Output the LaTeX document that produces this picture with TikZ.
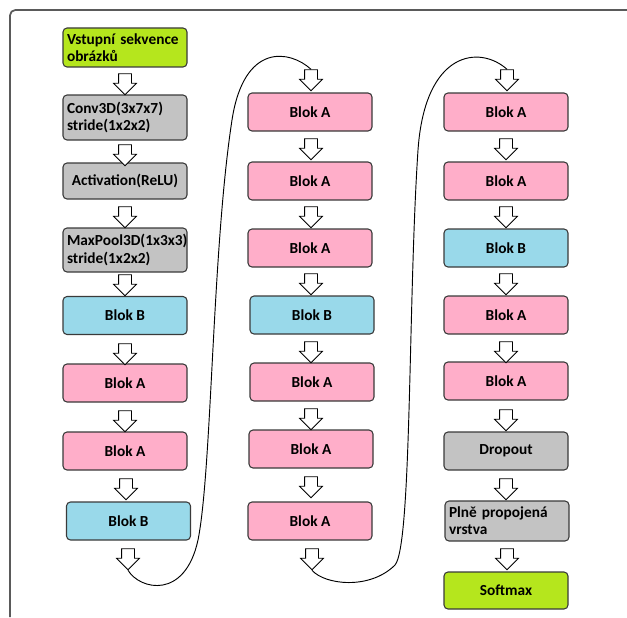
\documentclass[tikz,border=0pt]{standalone}
\usepackage{fontspec}
\setmainfont{Carlito}
\usetikzlibrary{shapes.arrows}
\definecolor{inoutfill}{HTML}{B5E61D}
\definecolor{layerfill}{HTML}{C3C3C3}
\definecolor{blokafill}{HTML}{FFAEC9}
\definecolor{blokbfill}{HTML}{99D9EA}
\definecolor{boxline}{HTML}{3A3A3A}
\definecolor{frameline}{HTML}{5A5A5A}
\tikzset{
  box/.style={draw=boxline, rounded corners=3pt, line width=0.8pt,
              minimum width=93pt, minimum height=28.5pt, inner xsep=3pt, inner ysep=2pt,
              font=\fontsize{11.5}{13}\selectfont\bfseries, align=center},
  leftbox/.style={text width=87pt, align=left},
  inoutbox/.style={box, fill=inoutfill},
  layerbox/.style={box, fill=layerfill},
  blokabox/.style={box, fill=blokafill},
  blokbbox/.style={box, fill=blokbfill},
  flowarrow/.style={single arrow, draw=black, fill=white, line width=0.6pt, rotate=-90,
                    inner xsep=0pt, inner ysep=4.5pt, single arrow head extend=3.75pt,
                    single arrow tip angle=90, minimum height=15.75pt, minimum width=16.5pt},
  link/.style={draw=black, line width=0.7pt},
  frame/.style={draw=frameline, line width=1.3pt, rounded corners=4pt},
}

\begin{document}
\begin{tikzpicture}[x=0.75pt, y=-0.75pt]
  \useasboundingbox (0,0) rectangle (627,617);
  % --- frame ---
  \draw[frame] (10,617) -- (10,10) -- (627,10);

  % --- column 1 ---
  \node[inoutbox, leftbox, minimum height=29.25pt] (c1b1) at (125,47.5) {Vstupní sekvence\\obrázků};
  \node[layerbox, leftbox, minimum height=33.75pt] (c1b2) at (125,117.5) {Conv3D(3x7x7)\\stride(1x2x2)};
  \node[layerbox, minimum height=27pt] (c1b3) at (125,181) {Activation(ReLU)};
  \node[layerbox, leftbox, minimum height=33pt] (c1b4) at (125,250) {MaxPool3D(1x3x3)\\stride(1x2x2)};
  \node[blokbbox] (c1b5) at (125,315.5) {Blok B};
  \node[blokabox] (c1b6) at (125,383) {Blok A};
  \node[blokabox] (c1b7) at (125,451) {Blok A};
  \node[blokbbox] (c1b8) at (128.5,521) {Blok B};
  \node[flowarrow] (c1a1) at (125,81) {};
  \node[flowarrow] (c1a2) at (125,152) {};
  \node[flowarrow] (c1a3) at (125,214) {};
  \node[flowarrow] (c1a4) at (125,282) {};
  \node[flowarrow] (c1a5) at (125,351) {};
  \node[flowarrow] (c1a6) at (125,418) {};
  \node[flowarrow] (c1a7) at (126,486) {};
  \node[flowarrow] (c1a8) at (128,556) {};

  % --- column 2 ---
  \node[flowarrow] (c2a0) at (311,77) {};
  \node[blokabox] (c2b1) at (310,112) {Blok A};
  \node[blokabox] (c2b2) at (310,181) {Blok A};
  \node[blokabox] (c2b3) at (310,248) {Blok A};
  \node[blokbbox] (c2b4) at (312,315) {Blok B};
  \node[blokabox] (c2b5) at (312,382) {Blok A};
  \node[blokabox] (c2b6) at (311,449) {Blok A};
  \node[blokabox] (c2b7) at (310,521) {Blok A};
  \node[flowarrow] (c2a1) at (311,146) {};
  \node[flowarrow] (c2a2) at (311,214) {};
  \node[flowarrow] (c2a3) at (311,281) {};
  \node[flowarrow] (c2a4) at (311,349) {};
  \node[flowarrow] (c2a5) at (311,416) {};
  \node[flowarrow] (c2a6) at (311,484) {};
  \node[flowarrow] (c2a7) at (312,556) {};

  % --- column 3 ---
  \node[flowarrow] (c3a0) at (507,77) {};
  \node[blokabox] (c3b1) at (506,112) {Blok A};
  \node[blokabox] (c3b2) at (506,181) {Blok A};
  \node[blokbbox] (c3b3) at (506,248) {Blok B};
  \node[blokabox] (c3b4) at (506,315) {Blok A};
  \node[blokabox] (c3b5) at (506,381) {Blok A};
  \node[layerbox] (c3b6) at (506,451) {Dropout};
  \node[layerbox, leftbox, minimum height=30pt] (c3b7) at (507,521) {Plně propojená\\vrstva};
  \node[inoutbox, minimum height=27.75pt] (c3b8) at (506,590.5) {Softmax};
  \node[flowarrow] (c3a1) at (506,146) {};
  \node[flowarrow] (c3a2) at (506,214) {};
  \node[flowarrow] (c3a3) at (506,281) {};
  \node[flowarrow] (c3a4) at (506,349) {};
  \node[flowarrow] (c3a5) at (506,417) {};
  \node[flowarrow] (c3a6) at (506,486) {};
  \node[flowarrow] (c3a7) at (507,556) {};

  % --- links between columns ---
  \draw[link] (c1a8.tip) .. controls (140,590) and (185,600) .. (198,540)
    .. controls (212,470) and (212,250) .. (232,120)
    .. controls (244,42) and (290,50) .. (c2a0.tail);
  \draw[link] (c2a7.tip) .. controls (325,585) and (370,590) .. (395,565)
    .. controls (412,545) and (408,300) .. (418,150)
    .. controls (425,50) and (480,45) .. (c3a0.tail);
\end{tikzpicture}
\end{document}
